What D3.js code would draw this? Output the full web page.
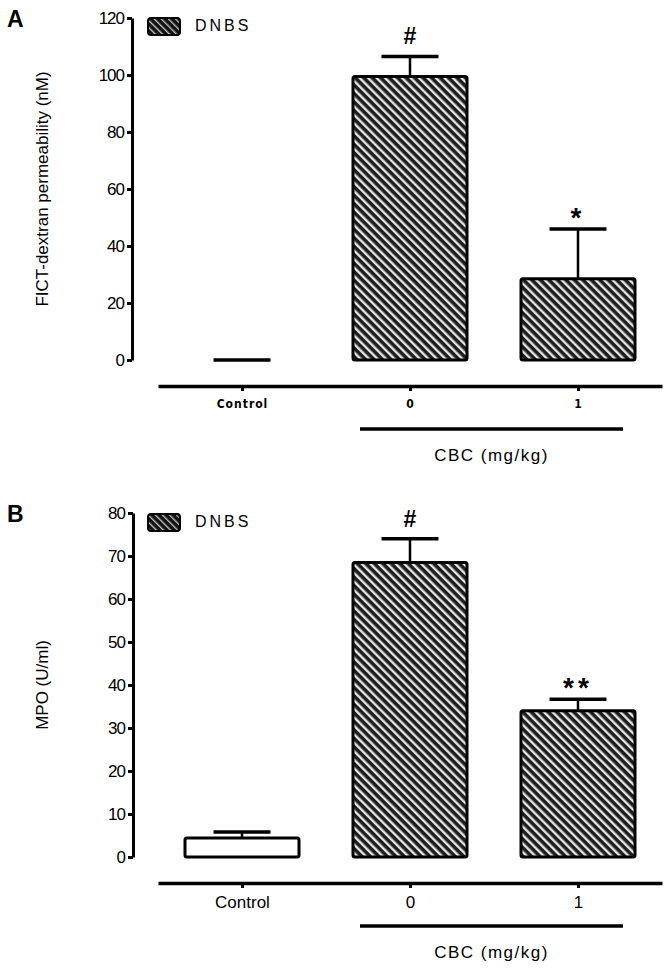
<!DOCTYPE html>
<html>
<head>
<meta charset="utf-8">
<script src="https://cdn.jsdelivr.net/npm/d3@7"></script>
<style>
  html, body { margin: 0; padding: 0; background: #fff; }
  svg { display: block; }
  text { font-family: "Liberation Sans", Arial, sans-serif; fill: #000; }
</style>
</head>
<body>
<svg id="chart" width="670" height="972"></svg>
<script>
// ---------------- data ----------------
const categories = ["Control", "0", "1"];
const treatmentGroup = ["none", "DNBS", "DNBS"];

const fitcMeans = [0, 99.5, 28.5];
const fitcErrors = [0, 7, 17.5];
const fitcMarks = ["", "#", "*"];
const fitcTicks = [0, 20, 40, 60, 80, 100, 120];

const mpoMeans = [4.4, 68.5, 34];
const mpoErrors = [1.4, 5.5, 2.7];
const mpoMarks = ["", "#", "**"];
const mpoTicks = [0, 10, 20, 30, 40, 50, 60, 70, 80];

const legendLabel = "DNBS";
const groupLabel = "CBC (mg/kg)";
const panelLetters = ["A", "B"];
const yTitles = ["FICT-dextran permeability (nM)", "MPO (U/ml)"];

// ---------------- drawing ----------------
const svg = d3.select("#chart");
const defs = svg.append("defs");

const pat = defs.append("pattern")
  .attr("id", "hatch")
  .attr("patternUnits", "userSpaceOnUse")
  .attr("width", 6).attr("height", 6)
  .attr("patternTransform", "rotate(-45)");
pat.append("rect").attr("width", 6).attr("height", 6).attr("fill", "#1e1e1e");
pat.append("rect").attr("x", 0).attr("width", 2.4).attr("height", 6).attr("fill", "#e6e6e6");

const patL = defs.append("pattern")
  .attr("id", "hatchLegend")
  .attr("patternUnits", "userSpaceOnUse")
  .attr("width", 5).attr("height", 5)
  .attr("patternTransform", "rotate(-45)");
patL.append("rect").attr("width", 5).attr("height", 5).attr("fill", "#111");
patL.append("rect").attr("x", 0).attr("width", 1.4).attr("height", 5).attr("fill", "#bbb");

const panels = [
  {
    letter: panelLetters[0], title: yTitles[0],
    means: fitcMeans, errors: fitcErrors, marks: fitcMarks, ticks: fitcTicks,
    yMax: 120, top: 18, bottom: 360, axisX: 132,
    tickFont: "bold 12px 'DejaVu Sans'", tickStretch: "condensed", tickSpacing: "1px",
    legendY: 18
  },
  {
    letter: panelLetters[1], title: yTitles[1],
    means: mpoMeans, errors: mpoErrors, marks: mpoMarks, ticks: mpoTicks,
    yMax: 80, top: 513, bottom: 857, axisX: 133,
    tickFont: "17px 'Liberation Sans'", tickStretch: "normal", tickSpacing: "0px",
    legendY: 514
  }
];

const x = d3.scalePoint().domain(categories).range([158, 662]).padding(0.5);
const barW = 114;
const capW = 57;

panels.forEach(p => {
  const g = svg.append("g");
  const y = d3.scaleLinear().domain([0, p.yMax]).range([p.bottom, p.top]);

  // panel letter
  g.append("text").attr("x", 7).attr("y", p.top + 9)
    .style("font", "bold 23px 'Liberation Sans'").text(p.letter);

  // y axis
  const ya = g.append("g").attr("transform", `translate(${p.axisX},0)`)
    .call(d3.axisLeft(y).tickValues(p.ticks).tickSize(5).tickSizeOuter(0).tickPadding(3));
  ya.select(".domain").attr("stroke-width", 3);
  ya.selectAll(".tick line").attr("stroke-width", 3);
  ya.selectAll(".tick text").style("font", "17px 'Liberation Sans'").style("letter-spacing", "-1px");

  // y title
  g.append("text")
    .attr("transform", `translate(44,${(p.top + p.bottom) / 2}) rotate(-90)`)
    .attr("text-anchor", "middle").attr("dominant-baseline", "middle")
    .style("font", "17px 'Liberation Sans'")
    .text(p.title);

  // x axis
  const xAxisY = p.bottom + 26;
  const xa = g.append("g").attr("transform", `translate(0,${xAxisY})`)
    .call(d3.axisBottom(x).tickSize(5).tickSizeOuter(0).tickPadding(8));
  xa.select(".domain").attr("stroke-width", 3.5);
  xa.selectAll(".tick line").attr("stroke-width", 3);
  xa.selectAll(".tick text")
    .style("font", p.tickFont)
    .style("font-stretch", p.tickStretch)
    .style("letter-spacing", p.tickSpacing);

  // group bracket
  const bx0 = x(categories[1]) - 50, bx1 = x(categories[2]) + 45;
  g.append("line").attr("x1", bx0).attr("x2", bx1)
    .attr("y1", xAxisY + 43).attr("y2", xAxisY + 43)
    .attr("stroke", "#000").attr("stroke-width", 3.5);
  g.append("text").attr("x", (bx0 + bx1) / 2).attr("y", xAxisY + 75)
    .attr("text-anchor", "middle")
    .style("font", "17px 'Liberation Sans'").style("letter-spacing", "1.5px")
    .text(groupLabel);

  // bars
  categories.forEach((c, i) => {
    const cx = x(c);
    const v = p.means[i];
    const h = y(0) - y(v);
    if (h > 0) {
      g.append("rect")
        .attr("x", cx - barW / 2).attr("y", y(v))
        .attr("width", barW).attr("height", h)
        .attr("rx", 2)
        .attr("fill", treatmentGroup[i] === "DNBS" ? "url(#hatch)" : "#fff")
        .attr("stroke", "#000").attr("stroke-width", 3);
    }
    const vTop = v + p.errors[i];
    if (y(v) - y(vTop) > 0) {
      g.append("line").attr("x1", cx).attr("x2", cx)
        .attr("y1", y(v)).attr("y2", y(vTop))
        .attr("stroke", "#000").attr("stroke-width", 2.5);
    }
    g.append("line").attr("x1", cx - capW / 2).attr("x2", cx + capW / 2)
      .attr("y1", y(vTop)).attr("y2", y(vTop))
      .attr("stroke", "#000").attr("stroke-width", 3.5);
    if (p.marks[i]) {
      const isHash = p.marks[i] === "#";
      g.append("text").attr("x", cx).attr("y", y(vTop) - (isHash ? 12 : 2))
        .attr("text-anchor", "middle")
        .style("font", isHash ? "bold 23px 'Liberation Sans'" : "bold 28px 'Liberation Sans'")
        .style("letter-spacing", isHash ? "0px" : "4px")
        .text(p.marks[i]);
    }
  });

  // legend
  g.append("rect").attr("x", 148).attr("y", p.legendY)
    .attr("width", 32).attr("height", 17).attr("rx", 3)
    .attr("fill", "url(#hatchLegend)").attr("stroke", "#000").attr("stroke-width", 2);
  g.append("text").attr("x", 195).attr("y", p.legendY + 9)
    .attr("dominant-baseline", "middle")
    .style("font", "16px 'Liberation Sans'").style("letter-spacing", "3px")
    .text(legendLabel);
});
</script>
</body>
</html>
